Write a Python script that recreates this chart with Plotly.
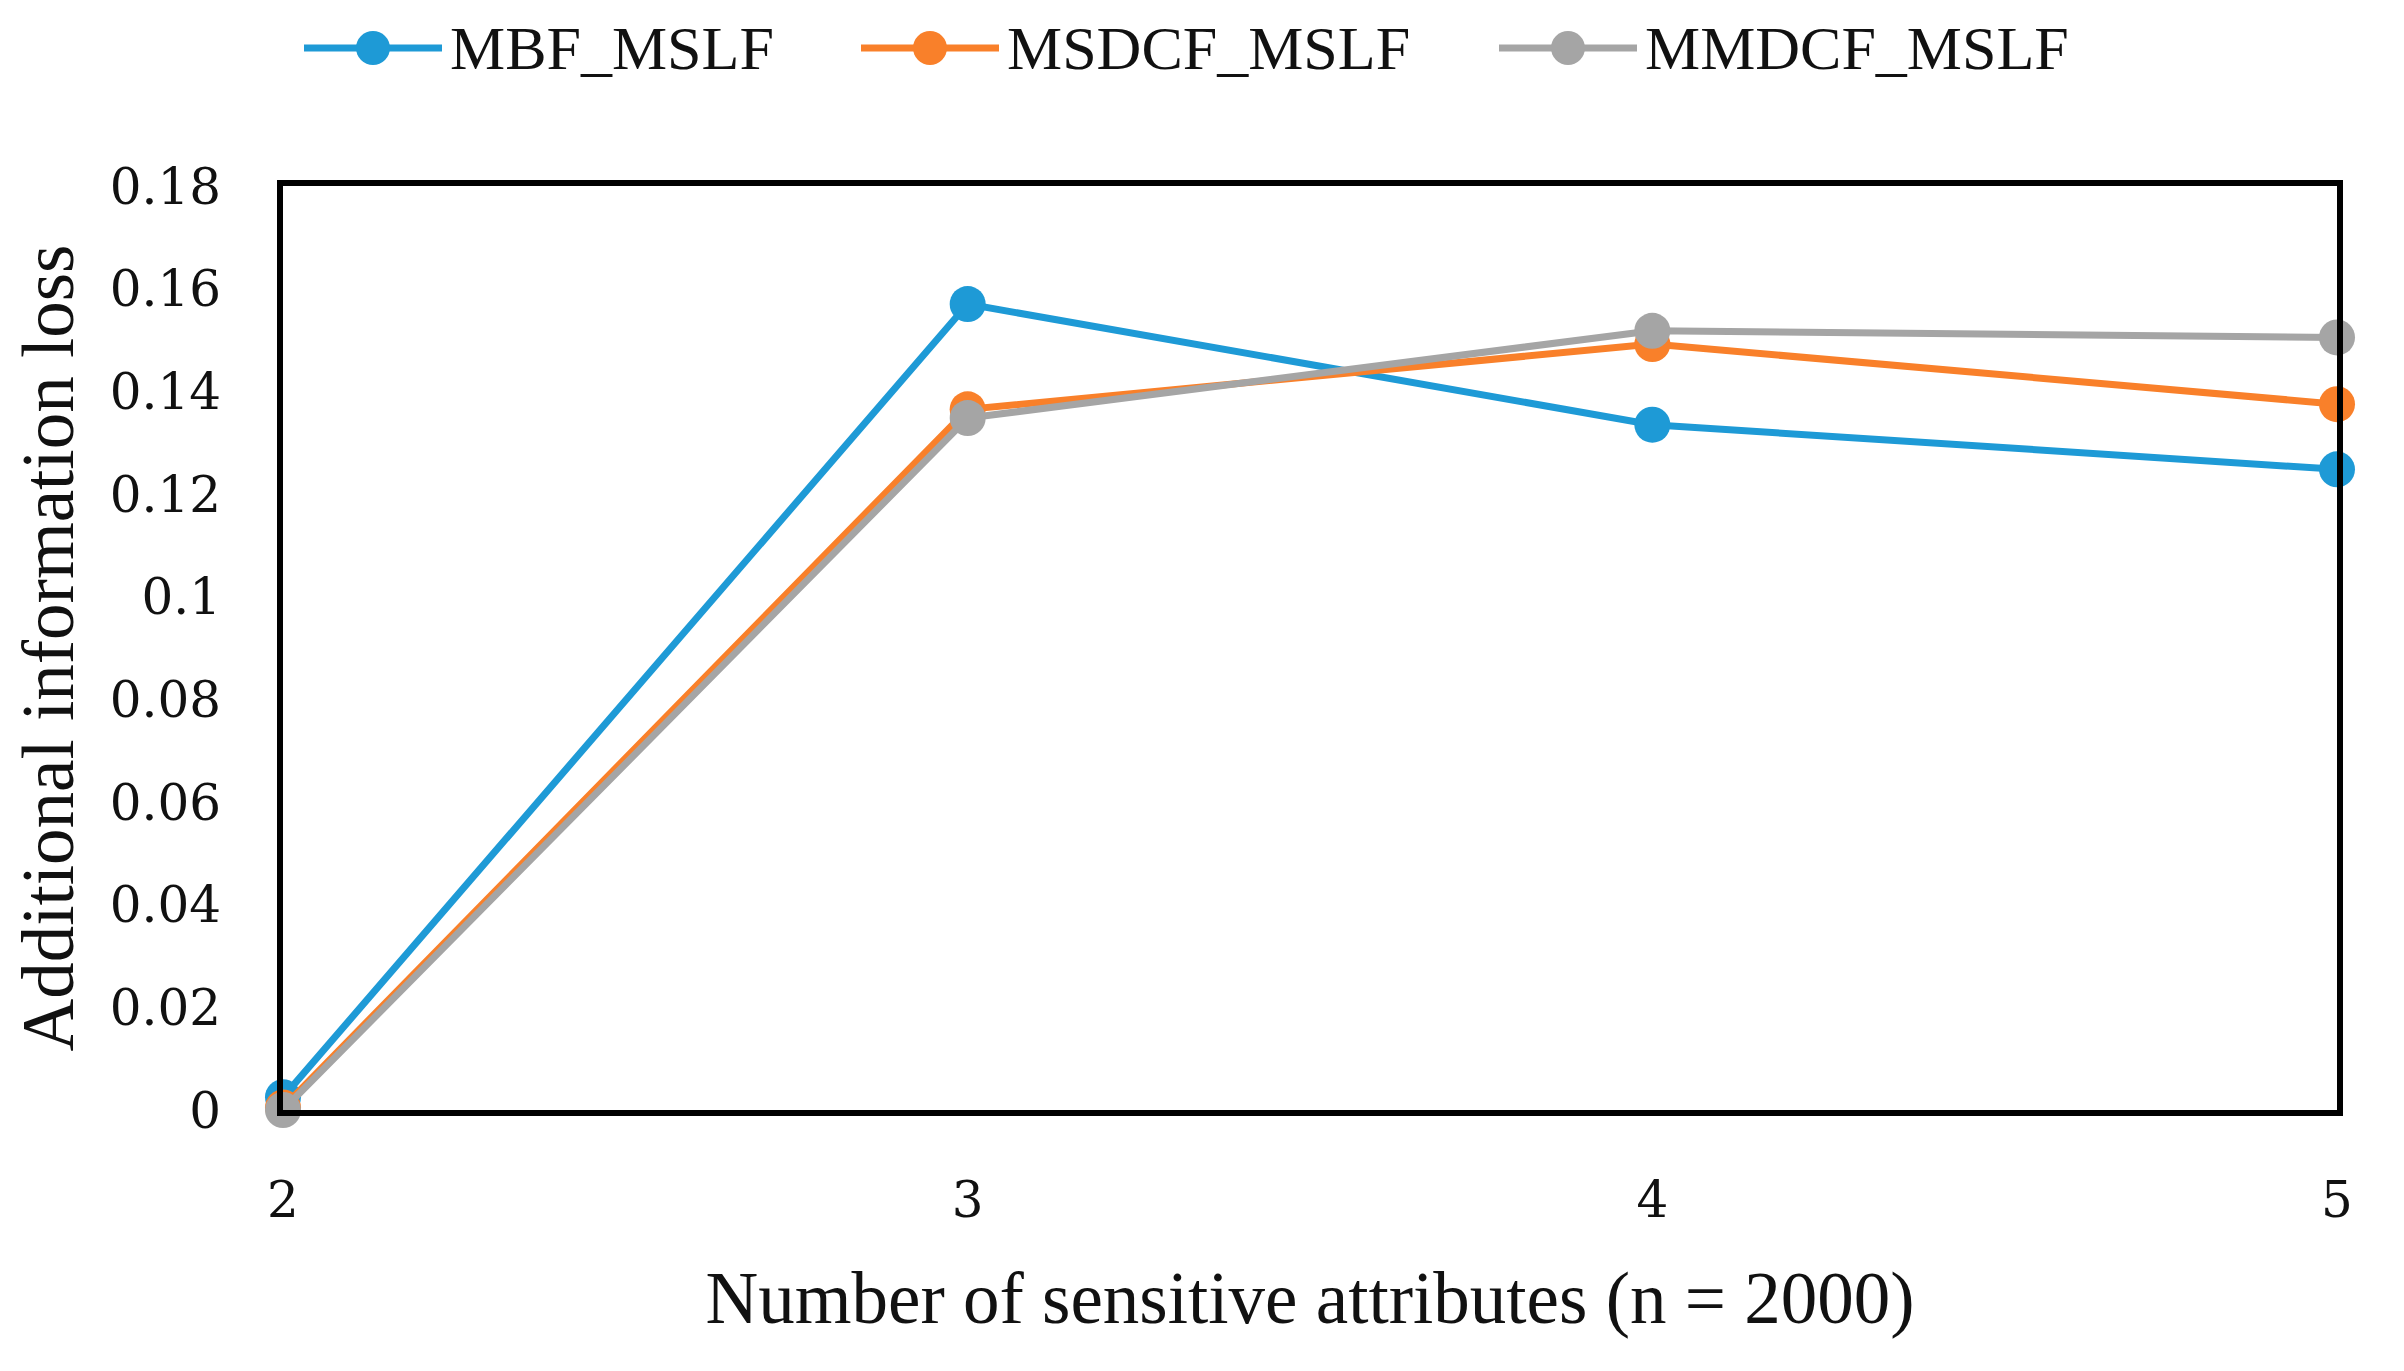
import plotly.graph_objects as go

x_vals = [2, 3, 4, 5]
mbf_mslf = [0.0025, 0.157, 0.1335, 0.1248]
msdcf_mslf = [0.0005, 0.1365, 0.1492, 0.1375]
mmdcf_mslf = [0.0, 0.1348, 0.1518, 0.1505]
y_ticks = [0, 0.02, 0.04, 0.06, 0.08, 0.1, 0.12, 0.14, 0.16, 0.18]
y_tick_text = ["0", "0.02", "0.04", "0.06", "0.08", "0.1", "0.12", "0.14", "0.16", "0.18"]
series_names = ["MBF_MSLF", "MSDCF_MSLF", "MMDCF_MSLF"]
series_colors = ["#1E9AD6", "#F9802A", "#A5A5A5"]
series_values = [mbf_mslf, msdcf_mslf, mmdcf_mslf]

W, H = 2404, 1371
L, R, T, B = 275, 75, 178, 269
PW, PH = W - L - R, H - T - B

fig = go.Figure()
for name, vals, color in zip(series_names, series_values, series_colors):
    fig.add_trace(go.Scatter(
        x=x_vals, y=vals, name=name, mode="lines+markers",
        line=dict(color=color, width=7),
        marker=dict(color=color, size=36),
        cliponaxis=False, showlegend=False,
    ))

# custom legend (long line + big marker like the original)
legend_starts_px = [296, 853, 1491]
legend_y_px = 40
line_len = 138
rad = 17
def px_x(p):
    return (p - L) / PW
def px_y(p):
    return (H - B - p) / PH

shapes = []
annotations = []
for start, name, color in zip(legend_starts_px, series_names, series_colors):
    shapes.append(dict(type="line", xref="paper", yref="paper",
                       x0=px_x(start), x1=px_x(start + line_len),
                       y0=px_y(legend_y_px), y1=px_y(legend_y_px),
                       line=dict(color=color, width=7)))
    cx = start + line_len / 2
    shapes.append(dict(type="circle", xref="paper", yref="paper",
                       x0=px_x(cx - rad), x1=px_x(cx + rad),
                       y0=px_y(legend_y_px + rad), y1=px_y(legend_y_px - rad),
                       fillcolor=color, line=dict(color=color, width=0)))
    annotations.append(dict(text=name, xref="paper", yref="paper",
                            x=px_x(start + line_len + 6), y=px_y(legend_y_px),
                            xanchor="left", yanchor="middle", showarrow=False,
                            font=dict(family="Liberation Serif", size=62, color="#111111")))

tick_font = dict(family="DejaVu Serif", size=50, color="#111111")
title_font = dict(family="Liberation Serif", size=73, color="#111111")

fig.update_layout(
    width=W, height=H,
    paper_bgcolor="white", plot_bgcolor="white",
    margin=dict(l=L, r=R, t=T, b=B),
    showlegend=False,
    shapes=shapes, annotations=annotations,
    xaxis=dict(
        range=[2, 5], tickvals=x_vals, ticktext=[str(v) for v in x_vals],
        showgrid=False, zeroline=False, showline=True, mirror=True,
        linecolor="black", linewidth=6, ticks="", tickfont=tick_font,
        ticklabelstandoff=41,
        title=dict(text="Number of sensitive attributes (n = 2000)", font=title_font, standoff=46),
    ),
    yaxis=dict(
        range=[0, 0.18], tickvals=y_ticks, ticktext=y_tick_text,
        showgrid=False, zeroline=False, showline=True, mirror=True,
        linecolor="black", linewidth=6, ticks="", tickfont=tick_font,
        ticklabelstandoff=46,
        title=dict(text="Additional information loss", font=title_font, standoff=26),
    ),
)

fig.write_html("out.html")
